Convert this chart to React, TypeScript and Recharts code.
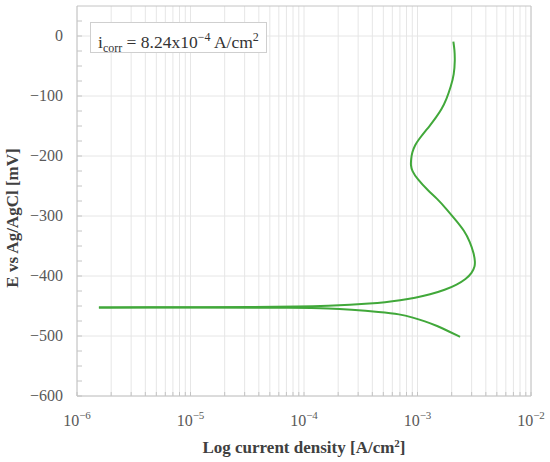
import React from 'react';
import {
  LineChart,
  Line,
  XAxis,
  YAxis,
  CartesianGrid,
  ReferenceLine,
} from 'recharts';

// Cathodic branch: from the corrosion potential out to the end of the sweep
const cathodicCurrent = [
  1.56e-6, 1.21e-5, 9.23e-5, 1.69e-4, 2.54e-4, 4.68e-4, 7.02e-4, 9.12e-4, 1.16e-3, 1.49e-3,
  1.9e-3, 2.37e-3,
];
const cathodicPotential = [
  -452.4, -452.5, -452.8, -454, -456, -460, -463.6, -469.4, -475.2, -483.1, -492.6, -501.3,
];

// Anodic branch: from the corrosion potential up to the top
const anodicCurrent = [
  1.56e-6, 4.4e-6, 1.21e-5, 3.34e-5, 9.23e-5, 1.69e-4, 2.54e-4, 3.81e-4, 5.18e-4, 7.02e-4,
  9.51e-4, 1.29e-3, 1.75e-3, 2.23e-3, 2.67e-3, 3.02e-3, 3.21e-3, 3.21e-3, 3.15e-3, 2.9e-3,
  2.57e-3, 2.23e-3, 1.82e-3, 1.49e-3, 1.24e-3, 9.91e-4, 8.96e-4, 8.71e-4, 8.78e-4, 8.96e-4,
  9.51e-4, 1.03e-3, 1.15e-3, 1.28e-3, 1.46e-3, 1.63e-3, 1.8e-3, 1.97e-3, 2.1e-3, 2.14e-3,
  2.12e-3, 2.07e-3,
];
const anodicPotential = [
  -452.4, -452.2, -452.1, -451.7, -451.2, -449.6, -447.8, -446, -443.8, -440.5,
  -436.4, -430.9, -423.1, -414.4, -405, -395, -383.5, -375.7, -363.6, -342.6,
  -324, -309.6, -289.3, -271, -257.9, -238, -224.8, -216, -205, -193.9,
  -181.8, -171.9, -160.3, -149.9, -135.5, -122.3, -105.8, -83.8, -64.5, -39.7,
  -23.1, -9.4,
];

const xMajorTicks = [1e-6, 1e-5, 1e-4, 1e-3, 1e-2];
const xMinorSteps = [2, 3, 4, 5, 6, 7, 8, 9];
const yMajorTicks = [-600, -500, -400, -300, -200, -100, 0];
const yMinorTicks = [
  -600, -575, -550, -525, -500, -475, -450, -425, -400, -375, -350, -325, -300, -275,
  -250, -225, -200, -175, -150, -125, -100, -75, -50, -25, 0, 25,
];

const cathodicData = cathodicCurrent.map((i, k) => ({ i, E: cathodicPotential[k] }));
const anodicData = anodicCurrent.map((i, k) => ({ i, E: anodicPotential[k] }));

const xAllTicks: number[] = [];
xMajorTicks.forEach((m, k) => {
  xAllTicks.push(m);
  if (k < xMajorTicks.length - 1) {
    xMinorSteps.forEach((s) => xAllTicks.push(Number((s * m).toPrecision(3))));
  }
});

const FONT = '"Liberation Serif", serif';
const GREEN = '#41a83a';
const AXIS = '#c4c4c4';
const GRID = '#e6e6e6';

const XTick = (props: any) => {
  const { x, y, payload } = props;
  const v = payload.value;
  const exp = Math.round(Math.log10(v));
  const isMajor = Math.abs(v - Math.pow(10, exp)) < 1e-12;
  const axisY = y - 14;
  return (
    <g>
      <line x1={x} x2={x} y1={axisY} y2={axisY - 4} stroke={AXIS} />
      {isMajor && (
        <text x={x} y={axisY + 30} textAnchor="middle" fill="#595959" fontFamily={FONT} fontSize={16}>
          <tspan>10</tspan>
          <tspan dy={-7} fontSize={11}>
            {'\u2212' + Math.abs(exp)}
          </tspan>
        </text>
      )}
    </g>
  );
};

const YTick = (props: any) => {
  const { x, y, payload } = props;
  const v = payload.value;
  const isMajor = v % 100 === 0;
  const axisX = x + 14;
  return (
    <g>
      <line x1={axisX} x2={axisX + 5} y1={y} y2={y} stroke={AXIS} />
      {isMajor && (
        <text x={x} y={y} dy={5} textAnchor="end" fill="#595959" fontFamily={FONT} fontSize={16}>
          {v < 0 ? '\u2212' + Math.abs(v) : String(v)}
        </text>
      )}
    </g>
  );
};

const XTitle = () => (
  <text x={304} y={453} textAnchor="middle" fill="#404040" fontFamily={FONT} fontSize={17} fontWeight="bold">
    Log current density [A/cm<tspan dy={-6} fontSize={11}>2</tspan>
    <tspan dy={6}>]</tspan>
  </text>
);

const YTitle = () => (
  <text
    x={18}
    y={218}
    transform="rotate(-90 18 218)"
    textAnchor="middle"
    fill="#404040"
    fontFamily={FONT}
    fontSize={17}
    fontWeight="bold"
  >
    E vs Ag/AgCl [mV]
  </text>
);

export default function App() {
  return (
    <div style={{ position: 'absolute', left: 0, top: 0, width: 550, height: 462, background: '#fff' }}>
      <LineChart width={550} height={462} margin={{ top: 6, right: 19, bottom: 0, left: 0 }}>
        <CartesianGrid
          stroke={GRID}
          horizontalValues={yMajorTicks}
          verticalValues={xAllTicks}
        />
        <XAxis
          dataKey="i"
          type="number"
          scale="log"
          domain={[1e-6, 1e-2]}
          ticks={xAllTicks}
          allowDataOverflow
          height={66}
          tickSize={0}
          tickMargin={14}
          tick={<XTick />}
          interval={0}
          stroke={AXIS}
          label={<XTitle />}
        />
        <YAxis
          type="number"
          domain={[-600, 50]}
          ticks={yMinorTicks}
          allowDataOverflow
          width={77}
          tickSize={0}
          tickMargin={14}
          tick={<YTick />}
          interval={0}
          stroke={AXIS}
          label={<YTitle />}
        />
        <ReferenceLine y={50} stroke={AXIS} />
        <ReferenceLine x={1e-2} stroke={AXIS} />
        <Line
          data={cathodicData}
          dataKey="E"
          type="basis"
          stroke={GREEN}
          strokeWidth={2}
          dot={false}
          isAnimationActive={false}
        />
        <Line
          data={anodicData}
          dataKey="E"
          type="basis"
          stroke={GREEN}
          strokeWidth={2}
          dot={false}
          isAnimationActive={false}
        />
      </LineChart>
      <div
        style={{
          position: 'absolute',
          left: 90,
          top: 22,
          width: 168,
          height: 29,
          border: '1px solid #cfcfcf',
          background: '#fff',
          fontFamily: FONT,
          fontSize: 17.5,
          color: '#333',
          lineHeight: '29px',
          paddingLeft: 7,
          boxSizing: 'content-box',
          whiteSpace: 'nowrap',
        }}
      >
        i<sub style={{ fontSize: 12 }}>corr</sub> = 8.24x10<sup style={{ fontSize: 12 }}>{'\u2212'}4</sup> A/cm
        <sup style={{ fontSize: 12 }}>2</sup>
      </div>
    </div>
  );
}
